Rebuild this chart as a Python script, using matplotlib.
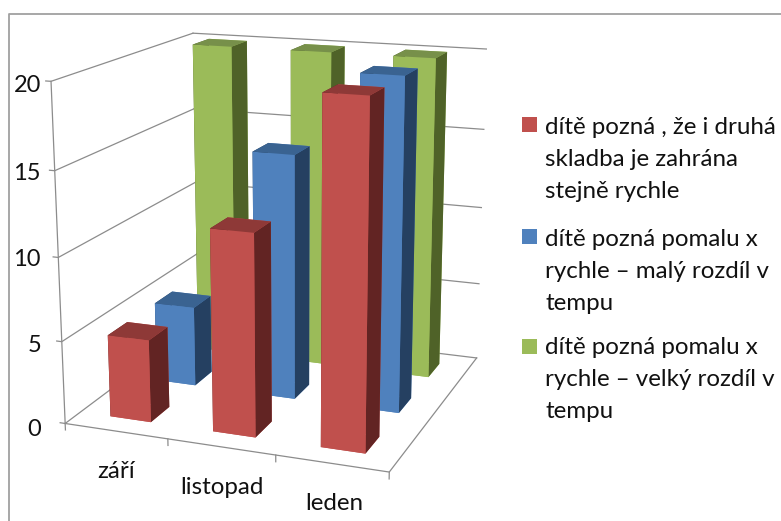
#!/usr/bin/env python3
"""Excel style 3D bar chart, three rows of columns over three months."""
import numpy as np
import matplotlib
matplotlib.use("Agg")
import matplotlib.pyplot as plt
from matplotlib.lines import Line2D
from matplotlib.patches import Rectangle

W, H = 781, 521

# ── Data ──────────────────────────────────────────────────────────────────────
CATEGORIES = ["září", "listopad", "leden"]
RED_VALUES = [5, 12, 20]
BLUE_VALUES = [5, 15, 20]
GREEN_VALUES = [20, 20, 20]
Z_TICKS = [0, 5, 10, 15, 20]
LEGEND_RED = ["dítě pozná , že i druhá", "skladba je zahrána", "stejně rychle"]
LEGEND_BLUE = ["dítě pozná pomalu x", "rychle – malý rozdíl v", "tempu"]
LEGEND_GREEN = ["dítě pozná pomalu x", "rychle – velký rozdíl v", "tempu"]

# Colours: front face, top face, side face
C_RED = ("#C0504D", "#8E3937", "#622423")
C_BLUE = ("#4F81BD", "#3A6391", "#254061")
C_GREEN = ("#9BBB59", "#77904A", "#4F6228")
C_GRID = "#8C8C8C"
C_FRAME = "#A0A0A0"
C_TEXT = "#111111"

# Camera found by fitting the floor and wall corners
ELEV, AZIM, ROLL, FOCAL = 15.38, -69.1533, 0.1562, np.exp(-0.6259)
BOX = (1, 0.9764, 1.0225)
SCALE = 2990.592
OFFSET = (281.52, 289.87)
BAR = 0.4   # column width and depth, as a share of a category cell

plt.rcParams["font.family"] = ["Lato", "DejaVu Sans"]

fig = plt.figure(figsize=(W / 100, H / 100), dpi=100, facecolor="white")
ax = fig.add_axes([0, 0, 1, 1], projection="3d", computed_zorder=False)
ax.set_proj_type("persp", focal_length=FOCAL)
ax.view_init(elev=ELEV, azim=AZIM, roll=ROLL)
ax.set_box_aspect(BOX)
ax.set_xlim(0, len(CATEGORIES), view_margin=0)
ax.set_ylim(0, 3, view_margin=0)
ax.set_zlim(0, Z_TICKS[-1], view_margin=0)
ax.set_axis_off()
ax.patch.set_alpha(0)

# Place the axes so the projection lands on the fitted pixel scale
x0, x1 = ax.viewLim.intervalx
y0, y1 = ax.viewLim.intervaly
side = SCALE * (x1 - x0)
ax.set_position([(OFFSET[0] + SCALE * x0) / W, (OFFSET[1] + SCALE * y0) / H,
                 side / W, side / H])

# ── Walls and floor ───────────────────────────────────────────────────────────
nx, ny, top = len(CATEGORIES), 3, Z_TICKS[-1]
line = dict(color=C_GRID, lw=0.9, zorder=1)
for z in Z_TICKS:
    ax.plot([-0.05, 0, 0], [0, 0, ny], [z, z, z], **line)
    ax.plot([0, nx], [ny, ny], [z, z], **line)
ax.plot([0, 0], [0, 0], [0, top], **line)
ax.plot([0, nx, nx], [0, 0, ny], [0, 0, 0], **line)
for x in range(nx + 1):
    ax.plot([x, x], [0, 0], [0, -0.4], **line)

# ── Columns, back row first ───────────────────────────────────────────────────
rows = [(2, GREEN_VALUES, C_GREEN), (1, BLUE_VALUES, C_BLUE), (0, RED_VALUES, C_RED)]
order = 10
for row, values, (front, roof, flank) in rows:
    for i, v in enumerate(values):
        # bar3d face order: -z, +z, -y, +y, -x, +x
        faces = [front, roof, front, front, flank, flank]
        bar = ax.bar3d(i + (1 - BAR) / 2, row + (1 - BAR) / 2, 0, BAR, BAR, v,
                       color=faces, shade=False, linewidth=0)
        bar.set_zorder(order)
        order += 1


# ── Text, placed in pixels of the picture ─────────────────────────────────────
def put(x, y, s, size, ha="left"):
    fig.text(x / W, 1 - y / H, s, fontsize=size, ha=ha, va="center", color=C_TEXT)


for z, y in zip(Z_TICKS, [429, 345, 260, 174, 86]):
    put(41, y, str(z), 17, ha="right")
for label, x, y in zip(CATEGORIES, [116, 222, 334], [471, 487, 503]):
    put(x, y, label, 17.4, ha="center")

legend = [(LEGEND_RED, C_RED[0], 124.5, [127, 159, 191]),
          (LEGEND_BLUE, C_BLUE[0], 236, [240, 272, 303]),
          (LEGEND_GREEN, C_GREEN[0], 346, [347, 379, 411])]
for lines, colour, ky, ys in legend:
    fig.add_artist(Rectangle((522 / W, 1 - (ky + 7.5) / H), 15 / W, 15 / H,
                             facecolor=colour, edgecolor="none",
                             transform=fig.transFigure))
    for s, y in zip(lines, ys):
        put(545, y, s, 17.4)

# ── Chart frame, cut off by the right and bottom edges ────────────────────────
fig.add_artist(Line2D([8.5 / W, 8.5 / W, 1], [0, 1 - 13.5 / H, 1 - 13.5 / H],
                      color=C_FRAME, lw=1.3, transform=fig.transFigure))

fig.savefig("out.png", dpi=100, facecolor="white")
plt.close(fig)
